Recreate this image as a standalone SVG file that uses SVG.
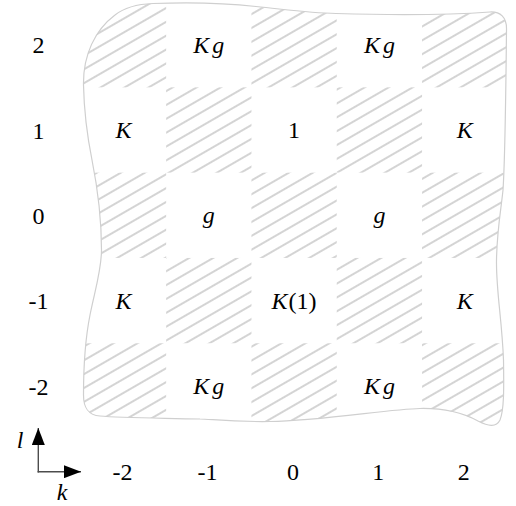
<svg xmlns="http://www.w3.org/2000/svg" width="516" height="506" viewBox="0 0 516 506">
<style>
  .t { font-family: "Liberation Serif", "DejaVu Serif", serif; font-size: 24px; fill: #000; text-anchor: middle; }
  .i { font-style: italic; }
  .h { fill: url(#hatch); }
  .edge { fill: none; stroke: #cfcfcf; stroke-width: 1.2; }
  .ax { stroke: #4d4d4d; stroke-width: 1.4; fill: none; }
</style>
<defs>
  <pattern id="hatch" patternUnits="userSpaceOnUse" width="12" height="12" patternTransform="rotate(-30)">
    <line x1="-1" y1="6" x2="13" y2="6" stroke="#d2d2d2" stroke-width="1.9"/>
  </pattern>
  <path id="outline" d="M 153 3.5 C 190 2, 225 3, 256 6.5 C 290 10, 310 13, 336 13.5 C 370 14.5, 440 15.5, 490 12 C 500 11.5, 507 17, 506.5 30 C 506 80, 505 160, 503 190 C 501 210, 497 230, 496.5 260 C 496 290, 502 320, 503.5 360 C 504 390, 504 410, 500 420 C 496 428, 488 426, 478 421 C 465 414, 445 408, 420 408.5 C 390 409, 320 421, 270 421.5 C 230 422, 210 419, 200 419 C 160 418, 120 418, 100 416 C 88 415, 83.5 408, 83.5 395 C 83.5 370, 85 340, 90 315 C 95 290, 101.5 270, 101.5 250 C 101.5 225, 98 190, 92 160 C 87 135, 84 110, 83.5 85 C 83 55, 95 30, 115 15 C 125 7, 140 4, 153 3.5 Z"/>
  <clipPath id="clip"><use href="#outline"/></clipPath>
  <marker id="ah" viewBox="0 0 17 13" refX="17" refY="6.5" markerWidth="17" markerHeight="13" markerUnits="userSpaceOnUse" orient="auto">
    <path d="M0,0 L17,6.5 L0,13 Z" fill="#000"/>
  </marker>
</defs>

<g id="cells" clip-path="url(#clip)">
  <g id="cell-m2-2"><rect class="h" x="80.85" y="2.05" width="85.3" height="85.3"/></g>
  <g id="cell-0-2"><rect class="h" x="251.45" y="2.05" width="85.3" height="85.3"/></g>
  <g id="cell-2-2"><rect class="h" x="422.05" y="2.05" width="85.3" height="85.3"/></g>
  <g id="cell-m1-1"><rect class="h" x="166.15" y="87.35" width="85.3" height="85.3"/></g>
  <g id="cell-1-1"><rect class="h" x="336.75" y="87.35" width="85.3" height="85.3"/></g>
  <g id="cell-m2-0"><rect class="h" x="80.85" y="172.65" width="85.3" height="85.3"/></g>
  <g id="cell-0-0"><rect class="h" x="251.45" y="172.65" width="85.3" height="85.3"/></g>
  <g id="cell-2-0"><rect class="h" x="422.05" y="172.65" width="85.3" height="85.3"/></g>
  <g id="cell-m1-m1"><rect class="h" x="166.15" y="257.95" width="85.3" height="85.3"/></g>
  <g id="cell-1-m1"><rect class="h" x="336.75" y="257.95" width="85.3" height="85.3"/></g>
  <g id="cell-m2-m2"><rect class="h" x="80.85" y="343.25" width="85.3" height="85.3"/></g>
  <g id="cell-0-m2"><rect class="h" x="251.45" y="343.25" width="85.3" height="85.3"/></g>
  <g id="cell-2-m2"><rect class="h" x="422.05" y="343.25" width="85.3" height="85.3"/></g>
</g>
<use href="#outline" class="edge"/>

<g id="labels">
  <g id="lab-m1-2"><text class="t i" x="208.8" y="52.7">K<tspan dx="3">g</tspan></text></g>
  <g id="lab-1-2"><text class="t i" x="379.4" y="52.7">K<tspan dx="3">g</tspan></text></g>
  <g id="lab-m2-1"><text class="t i" x="123.5" y="138">K</text></g>
  <g id="lab-0-1"><text class="t" x="294.1" y="138">1</text></g>
  <g id="lab-2-1"><text class="t i" x="464.7" y="138">K</text></g>
  <g id="lab-m1-0"><text class="t i" x="208.8" y="223.3">g</text></g>
  <g id="lab-1-0"><text class="t i" x="379.4" y="223.3">g</text></g>
  <g id="lab-m2-m1"><text class="t i" x="123.5" y="308.6">K</text></g>
  <g id="lab-0-m1"><text class="t" x="294.1" y="308.6"><tspan font-style="italic">K</tspan><tspan dx="1">(1)</tspan></text></g>
  <g id="lab-2-m1"><text class="t i" x="464.7" y="308.6">K</text></g>
  <g id="lab-m1-m2"><text class="t i" x="208.8" y="393.9">K<tspan dx="3">g</tspan></text></g>
  <g id="lab-1-m2"><text class="t i" x="379.4" y="393.9">K<tspan dx="3">g</tspan></text></g>
</g>

<g id="row-axis">
  <text class="t" x="38.5" y="53.3">2</text>
  <text class="t" x="38.5" y="138.6">1</text>
  <text class="t" x="38.5" y="223.9">0</text>
  <text class="t" x="38.5" y="309.2">-1</text>
  <text class="t" x="38.5" y="394.5">-2</text>
</g>
<g id="col-axis">
  <text class="t" x="122.5" y="480">-2</text>
  <text class="t" x="207.5" y="480">-1</text>
  <text class="t" x="293" y="480">0</text>
  <text class="t" x="378.3" y="480">1</text>
  <text class="t" x="463.8" y="480">2</text>
</g>

<g id="connectors">
  <line class="ax" x1="38.3" y1="472.4" x2="38.3" y2="428" marker-end="url(#ah)"/>
  <line class="ax" x1="37.6" y1="471.7" x2="81" y2="471.7" marker-end="url(#ah)"/>
</g>
<g id="axis-labels">
  <text class="t i" x="20" y="448">l</text>
  <text class="t i" x="62" y="500">k</text>
</g>
</svg>
